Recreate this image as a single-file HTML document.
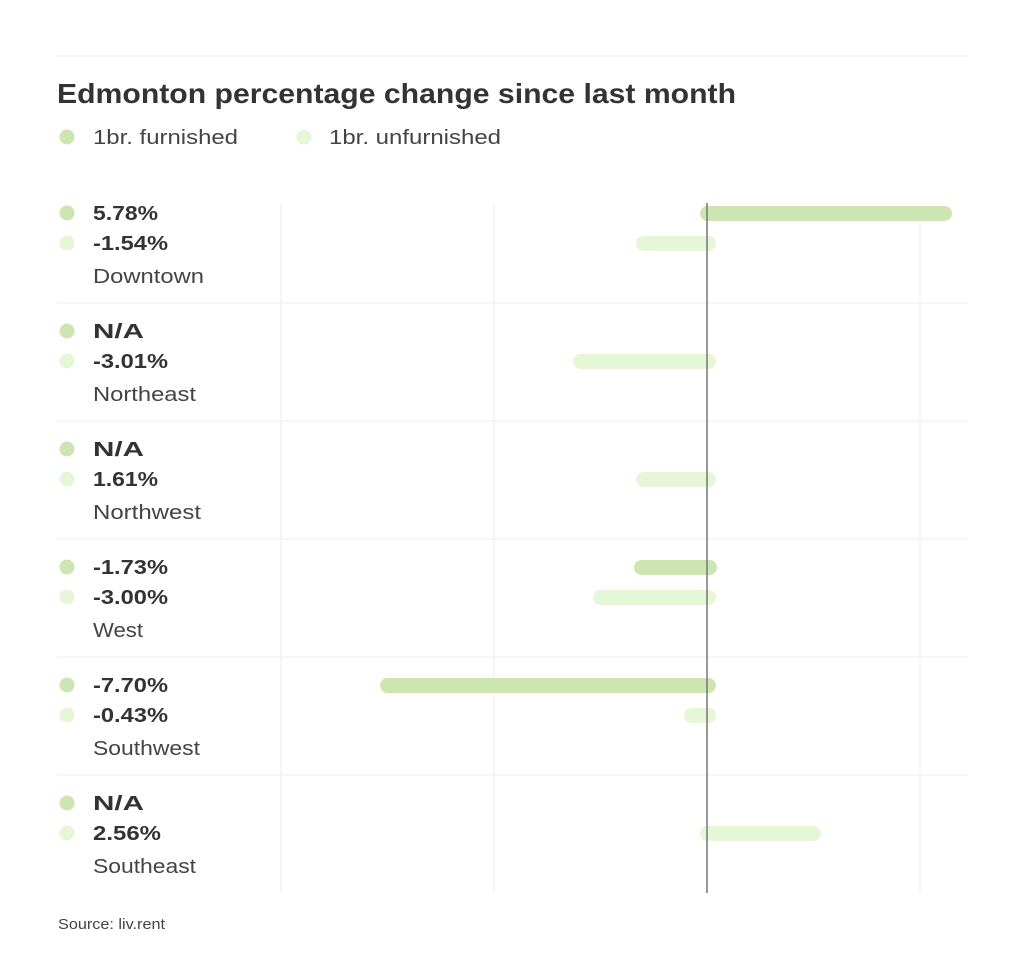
<!DOCTYPE html>
<html><head><meta charset="utf-8"><style>
html,body{margin:0;padding:0;background:#fff;}
svg{display:block;font-family:"Liberation Sans",sans-serif;}
</style></head><body>
<svg width="1024" height="956" viewBox="0 0 1024 956" xmlns="http://www.w3.org/2000/svg">
<rect width="1024" height="956" fill="#fff"/>
<line x1="57" y1="56" x2="968" y2="56" stroke="#f0f0f0" stroke-width="1.5"/>
<text x="57" y="103" font-size="28" font-weight="bold" fill="#333" textLength="679" lengthAdjust="spacingAndGlyphs">Edmonton percentage change since last month</text>
<circle cx="67" cy="137" r="7.5" fill="#cde5b3"/>
<text x="93" y="144" font-size="20" fill="#444" textLength="145" lengthAdjust="spacingAndGlyphs">1br. furnished</text>
<circle cx="304" cy="137" r="7.5" fill="#e6f7d8"/>
<text x="329" y="144" font-size="20" fill="#444" textLength="172" lengthAdjust="spacingAndGlyphs">1br. unfurnished</text>
<g stroke="#f0f0f0" stroke-width="1.2">
<line x1="281" y1="203" x2="281" y2="893"/>
<line x1="494" y1="203" x2="494" y2="893"/>
<line x1="920" y1="203" x2="920" y2="893"/>
<line x1="57" y1="303" x2="968" y2="303"/>
<line x1="57" y1="421" x2="968" y2="421"/>
<line x1="57" y1="539" x2="968" y2="539"/>
<line x1="57" y1="657" x2="968" y2="657"/>
<line x1="57" y1="775" x2="968" y2="775"/>
</g>
<g>
<rect x="700" y="206" width="252" height="15" rx="7.5" fill="#cde5b3"/>
<rect x="636" y="236" width="80" height="15" rx="7.5" fill="#e6f7d8"/>
<rect x="573" y="354" width="143" height="15" rx="7.5" fill="#e6f7d8"/>
<rect x="636" y="472" width="80" height="15" rx="7.5" fill="#e6f7d8"/>
<rect x="634" y="560" width="83" height="15" rx="7.5" fill="#cde5b3"/>
<rect x="593" y="590" width="123" height="15" rx="7.5" fill="#e6f7d8"/>
<rect x="380" y="678" width="336" height="15" rx="7.5" fill="#cde5b3"/>
<rect x="684" y="708" width="32" height="15" rx="7.5" fill="#e6f7d8"/>
<rect x="700" y="826" width="121" height="15" rx="7.5" fill="#e6f7d8"/>
</g>
<line x1="707" y1="203" x2="707" y2="893" stroke="#777" stroke-width="1.5"/>
<g font-size="20">
<g>
<circle cx="67" cy="213" r="7.5" fill="#cde5b3"/><circle cx="67" cy="243" r="7.5" fill="#e6f7d8"/>
<text x="93" y="220" font-weight="bold" fill="#333" textLength="65" lengthAdjust="spacingAndGlyphs">5.78%</text>
<text x="93" y="250" font-weight="bold" fill="#333" textLength="75" lengthAdjust="spacingAndGlyphs">-1.54%</text>
<text x="93" y="283" fill="#444" textLength="111" lengthAdjust="spacingAndGlyphs">Downtown</text>
</g>
<g transform="translate(0,118)">
<circle cx="67" cy="213" r="7.5" fill="#cde5b3"/><circle cx="67" cy="243" r="7.5" fill="#e6f7d8"/>
<text x="93" y="220" font-weight="bold" fill="#333" textLength="51" lengthAdjust="spacingAndGlyphs">N/A</text>
<text x="93" y="250" font-weight="bold" fill="#333" textLength="75" lengthAdjust="spacingAndGlyphs">-3.01%</text>
<text x="93" y="283" fill="#444" textLength="103" lengthAdjust="spacingAndGlyphs">Northeast</text>
</g>
<g transform="translate(0,236)">
<circle cx="67" cy="213" r="7.5" fill="#cde5b3"/><circle cx="67" cy="243" r="7.5" fill="#e6f7d8"/>
<text x="93" y="220" font-weight="bold" fill="#333" textLength="51" lengthAdjust="spacingAndGlyphs">N/A</text>
<text x="93" y="250" font-weight="bold" fill="#333" textLength="65" lengthAdjust="spacingAndGlyphs">1.61%</text>
<text x="93" y="283" fill="#444" textLength="108" lengthAdjust="spacingAndGlyphs">Northwest</text>
</g>
<g transform="translate(0,354)">
<circle cx="67" cy="213" r="7.5" fill="#cde5b3"/><circle cx="67" cy="243" r="7.5" fill="#e6f7d8"/>
<text x="93" y="220" font-weight="bold" fill="#333" textLength="75" lengthAdjust="spacingAndGlyphs">-1.73%</text>
<text x="93" y="250" font-weight="bold" fill="#333" textLength="75" lengthAdjust="spacingAndGlyphs">-3.00%</text>
<text x="93" y="283" fill="#444" textLength="50" lengthAdjust="spacingAndGlyphs">West</text>
</g>
<g transform="translate(0,472)">
<circle cx="67" cy="213" r="7.5" fill="#cde5b3"/><circle cx="67" cy="243" r="7.5" fill="#e6f7d8"/>
<text x="93" y="220" font-weight="bold" fill="#333" textLength="75" lengthAdjust="spacingAndGlyphs">-7.70%</text>
<text x="93" y="250" font-weight="bold" fill="#333" textLength="75" lengthAdjust="spacingAndGlyphs">-0.43%</text>
<text x="93" y="283" fill="#444" textLength="107" lengthAdjust="spacingAndGlyphs">Southwest</text>
</g>
<g transform="translate(0,590)">
<circle cx="67" cy="213" r="7.5" fill="#cde5b3"/><circle cx="67" cy="243" r="7.5" fill="#e6f7d8"/>
<text x="93" y="220" font-weight="bold" fill="#333" textLength="51" lengthAdjust="spacingAndGlyphs">N/A</text>
<text x="93" y="250" font-weight="bold" fill="#333" textLength="68" lengthAdjust="spacingAndGlyphs">2.56%</text>
<text x="93" y="283" fill="#444" textLength="103" lengthAdjust="spacingAndGlyphs">Southeast</text>
</g>
</g>
<text x="58" y="929" font-size="15" fill="#444" textLength="107" lengthAdjust="spacingAndGlyphs">Source: liv.rent</text>
</svg>
</body></html>
